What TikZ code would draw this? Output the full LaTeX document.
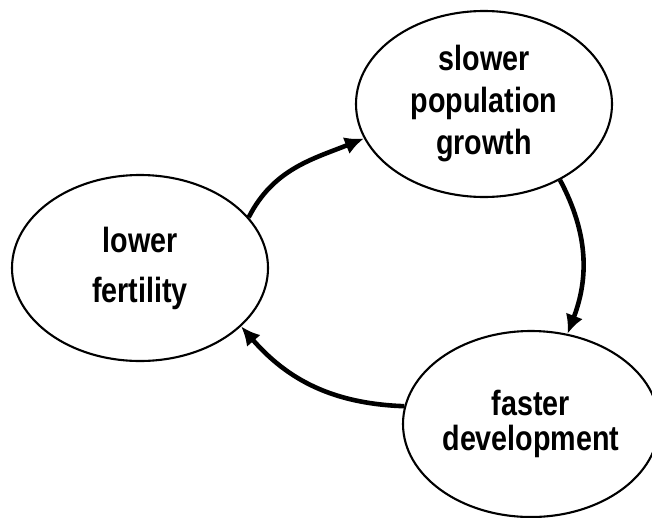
\documentclass[tikz,border=0pt]{standalone}
\usepackage{fontspec}
\newfontfamily\labfont[FakeStretch=0.82]{Liberation Sans}
\usetikzlibrary{shapes.geometric,arrows.meta}
\begin{document}
\begin{tikzpicture}[x=1pt,y=-1pt,
  bubble/.style={ellipse,draw,line width=2.1pt,minimum width=256pt,minimum height=186pt,
    inner sep=0pt,align=center,font=\labfont\bfseries\fontsize{35}{42}\selectfont},
  link/.style={line width=4.6pt,-{Latex[length=19pt,width=18pt]}}]
\useasboundingbox (0,0) rectangle (652,517);
\node[bubble] (sp) at (484,104) {slower\\population\\growth};
\node[bubble] (lf) at (140,268) {lower\\[8pt]fertility};
\node[bubble] (fd) at (531,424) {faster\\[-7pt]development};
\draw[link] (lf.25.5) to[out=63,in=202] (sp.196);
\draw[link] (sp.-45.7) to[out=-62,in=69] (fd.68);
\draw[link] (fd.172) to[out=178,in=-49] (lf.-30);
\end{tikzpicture}
\end{document}
